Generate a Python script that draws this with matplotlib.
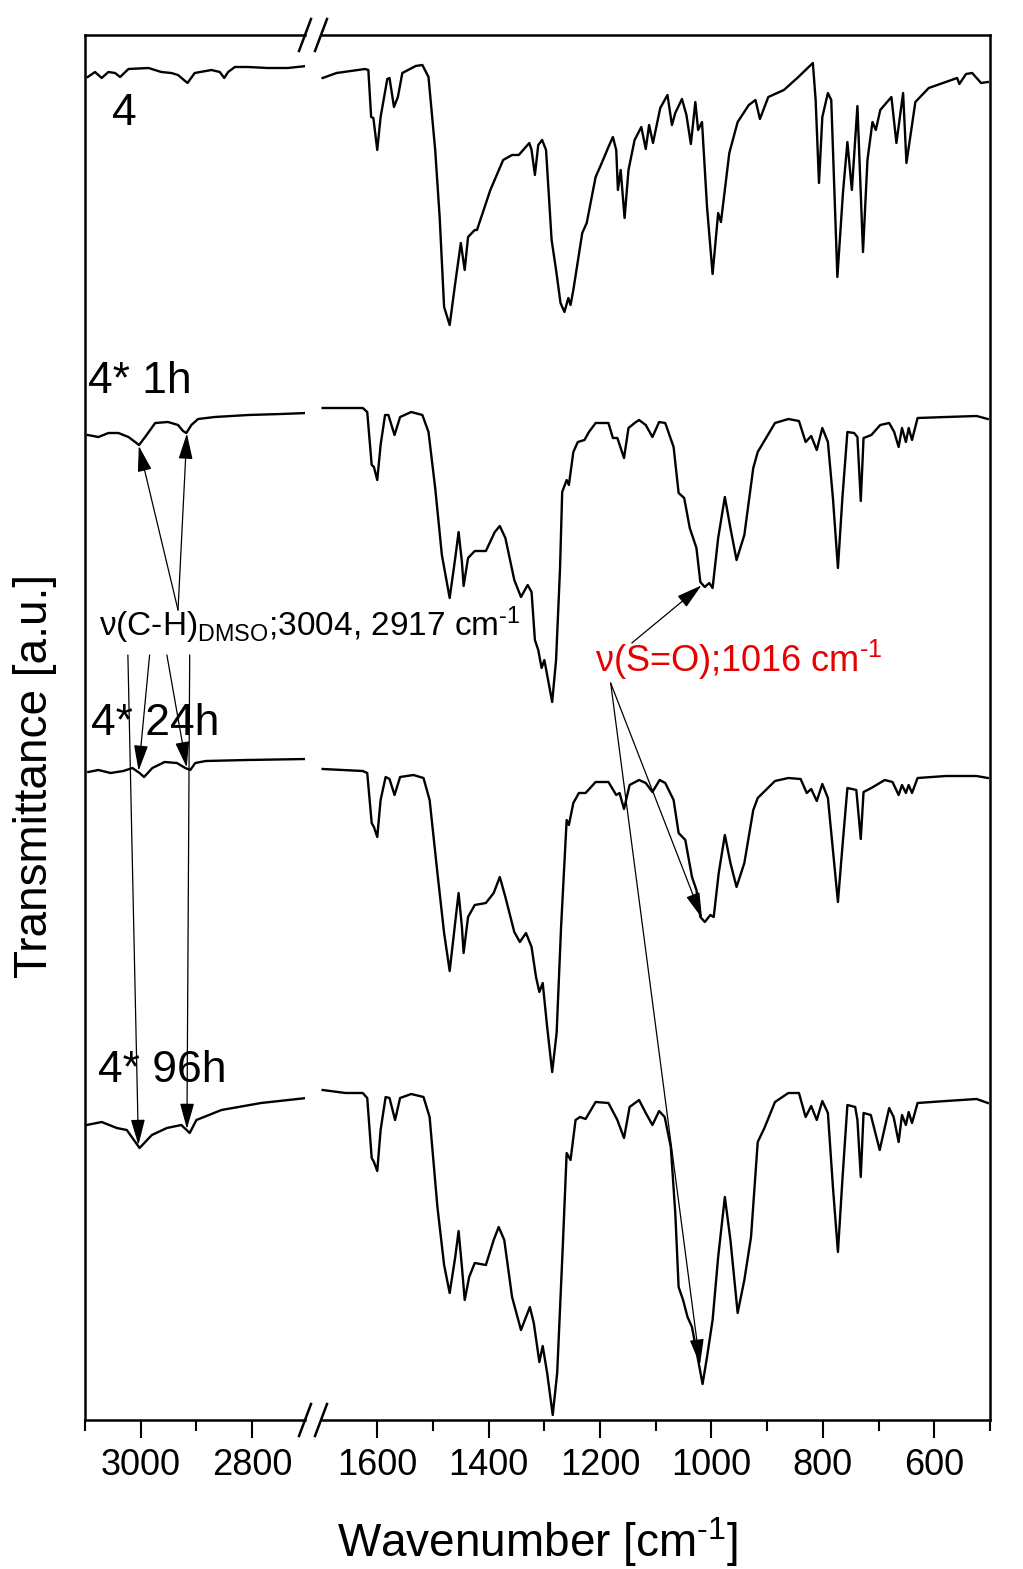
import numpy as np
import matplotlib.pyplot as plt
from matplotlib.lines import Line2D

plt.rcParams['font.family'] = ['Liberation Sans', 'DejaVu Sans']
plt.rcParams['mathtext.fontset'] = 'custom'
plt.rcParams['mathtext.rm'] = 'Liberation Sans'
plt.rcParams['mathtext.it'] = 'Liberation Sans:italic'

# --- data: (wavenumber, transmittance a.u.), offsets already included ---
# C-H region (3100-2700 cm-1)
ch_4 = [(3095, 1341), (3082, 1346), (3070, 1340), (3058, 1346), (3046, 1345), (3037, 1341),
        (3022, 1349), (2986, 1350), (2963, 1346), (2945, 1345), (2933, 1343), (2916, 1335),
        (2903, 1345), (2873, 1348), (2858, 1346), (2850, 1340), (2843, 1346), (2831, 1351),
        (2807, 1351), (2772, 1350), (2736, 1350), (2702, 1352)]
ch_1h = [(3095, 983), (3076, 981), (3058, 985), (3040, 985), (3022, 981), (3010, 976),
         (3003, 973), (2992, 981), (2974, 995), (2951, 996), (2933, 993), (2924, 987),
         (2918, 985), (2909, 993), (2897, 999), (2867, 1001), (2807, 1003), (2748, 1004),
         (2702, 1005)]
ch_24h = [(3094, 646), (3076, 648), (3054, 645), (3031, 647), (3015, 650), (3002, 645),
          (2994, 641), (2979, 650), (2957, 656), (2935, 655), (2920, 650), (2911, 648),
          (2902, 655), (2883, 657), (2809, 658), (2702, 659)]
ch_96h = [(3097, 293), (3070, 296), (3043, 290), (3025, 288), (3002, 270), (2980, 283),
          (2953, 290), (2927, 293), (2912, 285), (2900, 298), (2855, 308), (2784, 315),
          (2702, 320)]

# fingerprint region (1700-500 cm-1)
fp_4 = [(1698, 1340), (1673, 1345), (1622, 1349), (1616, 1348), (1611, 1301), (1607, 1300),
        (1600, 1268), (1594, 1301), (1582, 1339), (1578, 1340), (1570, 1311), (1563, 1321),
        (1555, 1345), (1531, 1352), (1519, 1353), (1508, 1341), (1496, 1268), (1488, 1201),
        (1480, 1111), (1470, 1093), (1460, 1135), (1450, 1175), (1443, 1148), (1437, 1181),
        (1425, 1188), (1421, 1188), (1397, 1228), (1374, 1258), (1358, 1263), (1346, 1263),
        (1327, 1275), (1323, 1268), (1317, 1243), (1311, 1273), (1304, 1278), (1297, 1268),
        (1287, 1178), (1279, 1148), (1271, 1115), (1264, 1106), (1257, 1120), (1253, 1113),
        (1248, 1128), (1232, 1185), (1224, 1195), (1208, 1241), (1197, 1255), (1185, 1271),
        (1177, 1281), (1171, 1268), (1168, 1228), (1163, 1248), (1156, 1200), (1149, 1248),
        (1138, 1278), (1126, 1291), (1118, 1269), (1112, 1293), (1105, 1275), (1092, 1310),
        (1079, 1323), (1071, 1293), (1065, 1305), (1053, 1319), (1045, 1303), (1037, 1274),
        (1029, 1316), (1024, 1288), (1017, 1296), (1008, 1211), (998, 1144), (988, 1205),
        (983, 1196), (968, 1265), (953, 1296), (933, 1313), (921, 1318), (913, 1299),
        (898, 1321), (870, 1328), (846, 1340), (818, 1355), (813, 1318), (807, 1235),
        (801, 1301), (791, 1325), (785, 1318), (774, 1141), (764, 1225), (756, 1276),
        (748, 1228), (738, 1312), (728, 1166), (720, 1258), (711, 1296), (705, 1288),
        (697, 1308), (677, 1321), (668, 1275), (656, 1325), (650, 1255), (634, 1316),
        (610, 1330), (559, 1340), (555, 1334), (543, 1344), (532, 1345), (516, 1335),
        (504, 1336)]
fp_1h = [(1698, 1010), (1626, 1010), (1618, 1006), (1610, 953), (1606, 951), (1600, 938),
         (1594, 973), (1586, 1003), (1580, 1003), (1569, 983), (1559, 1001), (1539, 1006),
         (1519, 1003), (1508, 986), (1496, 930), (1484, 863), (1470, 820), (1460, 860),
         (1454, 886), (1448, 856), (1445, 832), (1437, 860), (1425, 867), (1405, 867),
         (1389, 886), (1380, 892), (1370, 880), (1354, 838), (1342, 821), (1330, 833),
         (1323, 826), (1317, 778), (1311, 768), (1305, 750), (1300, 758), (1295, 743),
         (1286, 716), (1279, 758), (1272, 848), (1268, 926), (1260, 938), (1256, 933),
         (1248, 966), (1240, 976), (1228, 978), (1220, 986), (1208, 995), (1185, 995),
         (1177, 980), (1169, 980), (1157, 960), (1149, 990), (1138, 995), (1130, 998),
         (1118, 993), (1106, 981), (1094, 996), (1083, 995), (1068, 971), (1059, 925),
         (1049, 920), (1039, 890), (1027, 870), (1020, 836), (1012, 831), (1004, 835),
         (998, 830), (988, 880), (976, 921), (966, 890), (955, 858), (941, 883), (925, 950),
         (917, 966), (886, 995), (862, 999), (843, 997), (831, 976), (821, 982), (811, 968),
         (801, 990), (791, 976), (782, 920), (773, 850), (765, 920), (756, 986), (744, 985),
         (738, 981), (732, 917), (727, 980), (713, 983), (697, 993), (681, 995), (672, 986),
         (664, 971), (658, 990), (651, 976), (646, 990), (640, 978), (630, 1000), (579, 1001),
         (524, 1002), (504, 999)]
fp_24h = [(1698, 649), (1626, 647), (1618, 645), (1610, 595), (1606, 591), (1600, 581),
          (1594, 618), (1585, 641), (1578, 639), (1569, 623), (1559, 641), (1535, 643),
          (1517, 640), (1506, 618), (1492, 545), (1480, 485), (1470, 447), (1460, 496),
          (1454, 525), (1448, 491), (1445, 465), (1437, 501), (1425, 513), (1405, 515),
          (1391, 525), (1380, 541), (1370, 521), (1354, 486), (1344, 476), (1333, 485),
          (1323, 471), (1315, 441), (1309, 426), (1303, 435), (1295, 391), (1286, 346),
          (1278, 385), (1270, 491), (1260, 598), (1256, 593), (1248, 615), (1238, 625),
          (1226, 625), (1208, 636), (1185, 636), (1171, 623), (1165, 625), (1157, 609),
          (1147, 633), (1130, 638), (1118, 635), (1106, 626), (1093, 638), (1083, 635),
          (1068, 618), (1059, 585), (1047, 578), (1035, 541), (1027, 528), (1020, 501),
          (1012, 496), (1002, 503), (996, 501), (987, 545), (976, 583), (966, 555),
          (955, 531), (941, 555), (925, 608), (917, 620), (886, 637), (862, 640), (840, 639),
          (829, 625), (821, 629), (811, 617), (801, 634), (791, 620), (782, 568), (773, 516),
          (765, 571), (756, 630), (740, 628), (732, 579), (727, 626), (713, 630), (689, 638),
          (675, 636), (664, 623), (658, 633), (651, 625), (646, 633), (640, 625), (630, 640),
          (579, 642), (524, 642), (504, 640)]
fp_96h = [(1698, 328), (1657, 325), (1626, 325), (1618, 320), (1610, 260), (1606, 256),
          (1600, 247), (1594, 288), (1585, 321), (1578, 320), (1568, 298), (1559, 320),
          (1539, 324), (1517, 321), (1506, 301), (1492, 211), (1480, 153), (1470, 125),
          (1460, 161), (1454, 187), (1448, 151), (1443, 118), (1435, 141), (1425, 155),
          (1405, 153), (1391, 178), (1382, 191), (1372, 178), (1358, 121), (1342, 88),
          (1326, 111), (1319, 95), (1309, 56), (1303, 72), (1295, 45), (1285, 3), (1277, 45),
          (1267, 171), (1260, 265), (1253, 258), (1244, 298), (1236, 301), (1226, 299),
          (1208, 316), (1185, 315), (1169, 298), (1157, 280), (1147, 311), (1130, 318),
          (1118, 305), (1106, 293), (1094, 307), (1084, 301), (1073, 271), (1065, 205),
          (1059, 131), (1051, 118), (1043, 101), (1035, 91), (1023, 55), (1016, 34),
          (1008, 61), (998, 98), (988, 161), (976, 221), (966, 178), (953, 105), (941, 138),
          (929, 181), (917, 276), (905, 290), (886, 316), (862, 325), (843, 325), (831, 301),
          (821, 312), (811, 298), (801, 317), (791, 305), (782, 231), (773, 166), (765, 238),
          (756, 313), (742, 311), (738, 298), (732, 241), (727, 305), (714, 303), (698, 268),
          (681, 310), (673, 301), (664, 276), (658, 303), (651, 293), (646, 306), (640, 295),
          (630, 315), (579, 317), (524, 319), (504, 315)]

labels = ['4', '4* 1h', '4* 24h', '4* 96h']
ch_spectra = [ch_4, ch_1h, ch_24h, ch_96h]
fp_spectra = [fp_4, fp_1h, fp_24h, fp_96h]
label_pos = [(3051, 1293), (3095, 1025), (3089, 683), (3077, 336)]

ch_peaks = [3004, 2917]   # DMSO C-H
so_peak = 1016            # DMSO S=O


def t_at(spec, wn):
    x, y = np.array(spec).T
    return np.interp(wn, x[::-1], y[::-1])


W, H = 1023, 1569
fig = plt.figure(figsize=(W / 100, H / 100), dpi=100)


def box(x0, x1, ytop, ybot):
    return [x0 / W, 1 - ybot / H, (x1 - x0) / W, (ybot - ytop) / H]


ax_l = fig.add_axes(box(85, 305, 35, 1420))
ax_r = fig.add_axes(box(321, 990, 35, 1420))

for ch, fp in zip(ch_spectra, fp_spectra):
    x, y = np.array(ch).T
    ax_l.plot(x, y, color='black', lw=1.7, solid_joinstyle='round')
    x, y = np.array(fp).T
    ax_r.plot(x, y, color='black', lw=1.7, solid_joinstyle='round')

ax_l.set_xlim(3100, 2705)
ax_r.set_xlim(1701, 500)
for ax in (ax_l, ax_r):
    ax.set_ylim(-2, 1383)
    ax.set_yticks([])
    ax.patch.set_alpha(0)
    for s in ax.spines.values():
        s.set_linewidth(1.8)
    ax.tick_params(axis='x', which='major', direction='out', length=13, width=1.5,
                   labelsize=26, pad=7)
    ax.tick_params(axis='x', which='minor', direction='out', length=8, width=1.5)
ax_l.spines['right'].set_visible(False)
ax_r.spines['left'].set_visible(False)
ax_l.set_xticks([3000, 2800])
ax_l.set_xticks([3100, 2900], minor=True)
ax_r.set_xticks([1600, 1400, 1200, 1000, 800, 600])
ax_r.set_xticks([1500, 1300, 1100, 900, 700, 500], minor=True)

# break marks
for xb in (305, 321):
    for yb in (35, 1420):
        fig.add_artist(Line2D([(xb - 6) / W, (xb + 6) / W],
                              [1 - (yb + 16) / H, 1 - (yb - 16) / H],
                              color='black', lw=1.8, transform=fig.transFigure))

# sample labels
for lab, (lx, ly) in zip(labels, label_pos):
    ax_l.text(lx, ly, lab, fontsize=32, ha='left', va='baseline', clip_on=False)

sup = '$^{\\mathregular{\\text{-}1}}$'

# DMSO C-H annotation
ax_l.text(3075, 782, 'ν(C-H)$_{\\mathregular{DMSO}}$;3004, 2917 cm' + sup,
          fontsize=24, ha='left', va='baseline', clip_on=False)
arrow = dict(arrowstyle='-|>,head_length=0.8,head_width=0.22', color='black', lw=0.9,
             shrinkA=0, shrinkB=1, mutation_scale=20)
ch_starts = {1: [(2933, 808), (2933, 808)],
             2: [(2984, 763), (2953, 763)],
             3: [(3023, 763), (2912, 763)]}
for i, starts in ch_starts.items():
    for pk, st in zip(ch_peaks, starts):
        ax_l.annotate('', xy=(pk, t_at(ch_spectra[i], pk)), xytext=st,
                      arrowprops=arrow, annotation_clip=False)

# S=O annotation
ax_r.text(1209, 746, 'ν(S=O);1016 cm' + sup, fontsize=26, color='#e60000',
          ha='left', va='baseline', clip_on=False)
so_starts = {1: (1143, 775), 2: (1181, 735), 3: (1181, 735)}
so_shrink = {1: 1, 2: 1, 3: 14}
for i, st in so_starts.items():
    ax_r.annotate('', xy=(so_peak, t_at(fp_spectra[i], so_peak)), xytext=st,
                  arrowprops=dict(arrow, shrinkB=so_shrink[i]), annotation_clip=False)

fig.text(538 / W, 1 - 1557 / H, 'Wavenumber [cm' + sup + ']', fontsize=33,
         ha='center', va='baseline')
fig.text(35 / W, 1 - 776 / H, 'Transmittance [a.u.]', fontsize=33, rotation=90,
         ha='center', va='center')

fig.savefig('out.png', dpi=100)
